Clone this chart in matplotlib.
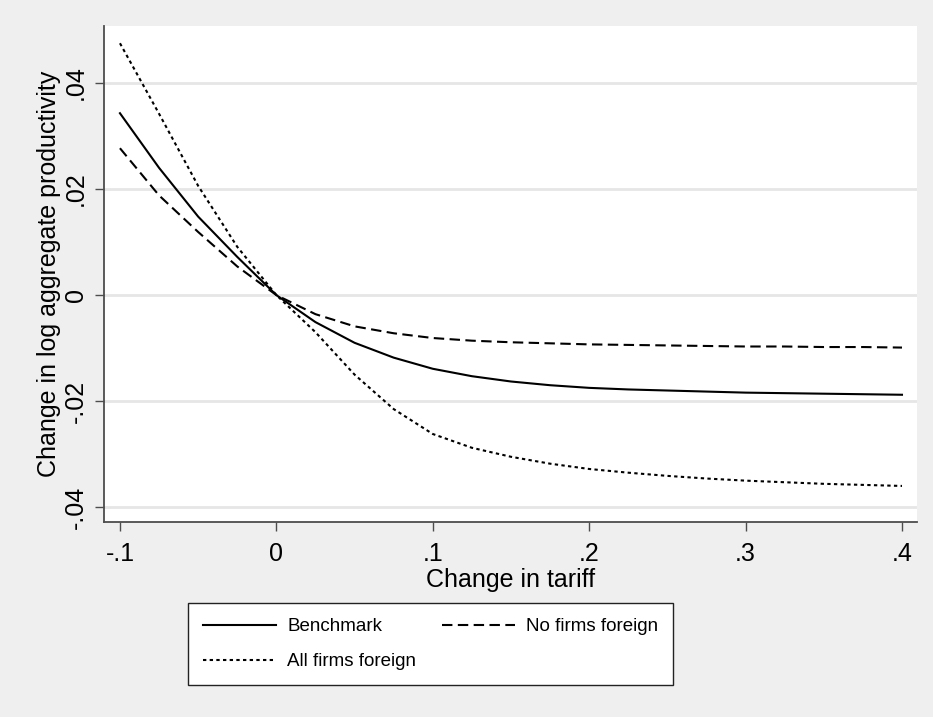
import numpy as np
import matplotlib
matplotlib.use("Agg")
import matplotlib.pyplot as plt

# === Data ===
tariff = [-0.1, -0.075, -0.05, -0.025, 0.0, 0.025, 0.05, 0.075, 0.1, 0.125,
          0.15, 0.175, 0.2, 0.225, 0.25, 0.275, 0.3, 0.325, 0.35, 0.375, 0.4]

benchmark = [0.0343, 0.0240, 0.0148, 0.0072, 0.0, -0.0051, -0.0090, -0.0118,
             -0.0139, -0.0153, -0.0163, -0.0170, -0.0175, -0.0178, -0.0180,
             -0.0182, -0.0184, -0.0185, -0.0186, -0.0187, -0.0188]

no_foreign = [0.0277, 0.0188, 0.0119, 0.0054, 0.0, -0.0036, -0.0059, -0.0072,
              -0.0081, -0.0086, -0.0089, -0.0091, -0.0093, -0.0094, -0.0095,
              -0.0096, -0.0097, -0.0097, -0.0098, -0.0098, -0.0099]

all_foreign = [0.0475, 0.0342, 0.0206, 0.0091, 0.0, -0.0070, -0.0150, -0.0215,
               -0.0262, -0.0288, -0.0305, -0.0318, -0.0328, -0.0335, -0.0341,
               -0.0346, -0.0350, -0.0353, -0.0356, -0.0358, -0.0360]

xticks = [-0.1, 0.0, 0.1, 0.2, 0.3, 0.4]
xtick_labels = ["-.1", "0", ".1", ".2", ".3", ".4"]
yticks = [-0.04, -0.02, 0.0, 0.02, 0.04]
ytick_labels = ["-.04", "-.02", "0", ".02", ".04"]

# === Style ===
plt.rcParams["font.family"] = ["Liberation Sans", "DejaVu Sans"]
bg = "#efefef"
axis_col = "#4d4d4d"

fig = plt.figure(figsize=(9.33, 7.17), dpi=100, facecolor=bg)
ax = fig.add_axes([104 / 933, 1 - 522 / 717, (917 - 104) / 933, (522 - 26) / 717])
ax.set_facecolor("white")

l1, = ax.plot(tariff, benchmark, color="black", lw=1.5, ls="-", label="Benchmark")
l2, = ax.plot(tariff, no_foreign, color="black", lw=1.5, dashes=(5, 2.6), label="No firms foreign")
l3, = ax.plot(tariff, all_foreign, color="black", lw=1.5, dashes=(1.6, 1.6), label="All firms foreign")

ax.set_xlim(-0.1102, 0.4096)
ax.set_ylim(-0.0428, 0.05075)

ax.set_xticks(xticks)
ax.set_xticklabels(xtick_labels)
ax.set_yticks(yticks)
ax.set_yticklabels(ytick_labels, rotation=90, va="center")

ax.grid(axis="y", color="#e6e6e6", lw=2)
ax.set_axisbelow(True)

for s in ["top", "right"]:
    ax.spines[s].set_visible(False)
for s in ["left", "bottom"]:
    ax.spines[s].set_color(axis_col)
    ax.spines[s].set_linewidth(1.3)

ax.tick_params(axis="both", direction="out", length=6.5, width=1, color=axis_col,
               labelsize=18)
ax.tick_params(axis="x", pad=8)
ax.tick_params(axis="y", pad=5)

ax.set_xlabel("Change in tariff", fontsize=18, labelpad=1)
ax.set_ylabel("Change in log aggregate productivity", fontsize=18, labelpad=2)

# === Legend below the plot (row-major order like the reference) ===
leg = fig.legend(handles=[l1, l3, l2], loc="upper left", ncol=2,
                 bbox_to_anchor=(188 / 933, 1 - 603 / 717, (673 - 188) / 933, 0.0),
                 mode="expand", fontsize=13.5, frameon=True, fancybox=False,
                 framealpha=1, facecolor="white",
                 handlelength=3.9, handletextpad=0.6, columnspacing=1.7,
                 labelspacing=0.95, borderpad=0.8, borderaxespad=0)
leg.get_frame().set_edgecolor("#222222")
leg.get_frame().set_linewidth(1)

plt.savefig("out.png", dpi=100, facecolor=bg)
